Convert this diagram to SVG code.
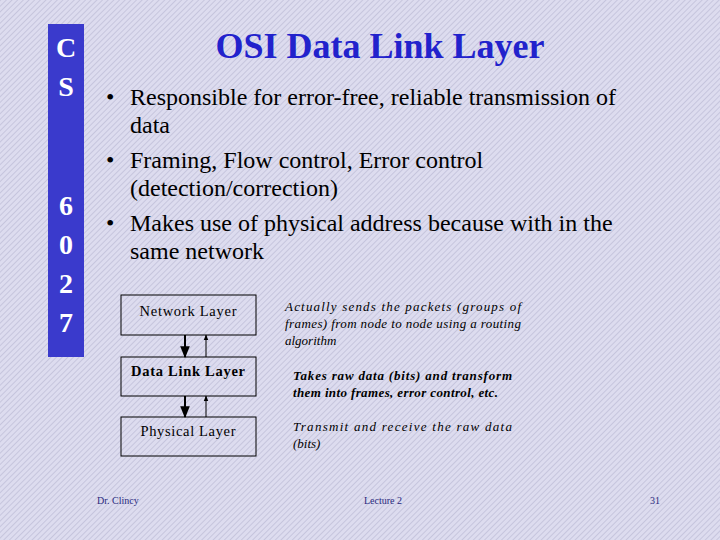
<svg xmlns="http://www.w3.org/2000/svg" width="720" height="540" viewBox="0 0 720 540">
<defs>
<pattern id="h" width="4" height="4" patternUnits="userSpaceOnUse" patternTransform="rotate(45)">
<rect width="4" height="4" fill="#dddcef"/><line x1="0" y1="0" x2="0" y2="4" stroke="#bebed8" stroke-width="1.5"/>
</pattern>
<marker id="a" viewBox="0 0 10 10" refX="9" refY="5" markerWidth="6" markerHeight="6" orient="auto"><path d="M0,1 L10,5 L0,9 Z" fill="#000"/></marker>
</defs>
<style>
.b{fill:none;stroke:#000;stroke-width:1}
text{font-family:'Liberation Serif','Times New Roman',serif}
</style>
<rect width="720" height="540" fill="url(#h)"/>
<rect x="48" y="24" width="36" height="333" fill="#3a3acc"/>
<g font-size="28" font-weight="bold" fill="#fff" text-anchor="middle">
<text x="66" y="57">C</text><text x="66" y="96">S</text>
<text x="66" y="215">6</text><text x="66" y="254">0</text>
<text x="66" y="293">2</text><text x="66" y="332">7</text>
</g>
<text x="380" y="58" font-size="36" font-weight="bold" fill="#2222cc" text-anchor="middle">OSI Data Link Layer</text>
<g font-size="24" fill="#000">
<text x="106" y="105">•</text><text x="130" y="105">Responsible for error-free, reliable transmission of</text>
<text x="130" y="133">data</text>
<text x="106" y="168">•</text><text x="130" y="168">Framing, Flow control, Error control</text>
<text x="130" y="196">(detection/correction)</text>
<text x="106" y="231">•</text><text x="130" y="231">Makes use of physical address because with in the</text>
<text x="130" y="259">same network</text>
</g>
<g font-size="14.5" text-anchor="middle">
<g id="network"><rect class="b" x="121" y="295" width="135" height="40"/><text x="188" y="316" textLength="97" lengthAdjust="spacing">Network Layer</text></g>
<g id="datalink"><rect class="b" x="121" y="357" width="135" height="39"/><text x="188" y="376" font-weight="bold" textLength="114" lengthAdjust="spacing">Data Link Layer</text></g>
<g id="physical"><rect class="b" x="121" y="417" width="135" height="39"/><text x="188" y="436" textLength="95" lengthAdjust="spacing">Physical Layer</text></g>
</g>
<g id="connectors" stroke="#000">
<line x1="185" y1="335" x2="185" y2="357" stroke-width="2" marker-end="url(#a)"/>
<line x1="206" y1="357" x2="206" y2="335" stroke-width="1" marker-end="url(#a)"/>
<line x1="185" y1="396" x2="185" y2="417" stroke-width="2" marker-end="url(#a)"/>
<line x1="206" y1="417" x2="206" y2="396" stroke-width="1" marker-end="url(#a)"/>
</g>
<g font-size="13" font-style="italic">
<text x="285" y="311" textLength="236" lengthAdjust="spacing">Actually sends the packets (groups of</text>
<text x="285" y="328" textLength="236" lengthAdjust="spacing">frames) from node to node using a routing</text>
<text x="285" y="345">algorithm</text>
<text x="293" y="380" font-weight="bold" textLength="219" lengthAdjust="spacing">Takes raw data (bits) and transform</text>
<text x="293" y="397" font-weight="bold" textLength="205" lengthAdjust="spacing">them into frames, error control, etc.</text>
<text x="293" y="431" textLength="219" lengthAdjust="spacing">Transmit and receive the raw data</text>
<text x="293" y="448">(bits)</text>
</g>
<g font-size="10" fill="#2a2a80">
<text x="97" y="504">Dr. Clincy</text>
<text x="364" y="504">Lecture 2</text>
<text x="650" y="504">31</text>
</g>
</svg>
